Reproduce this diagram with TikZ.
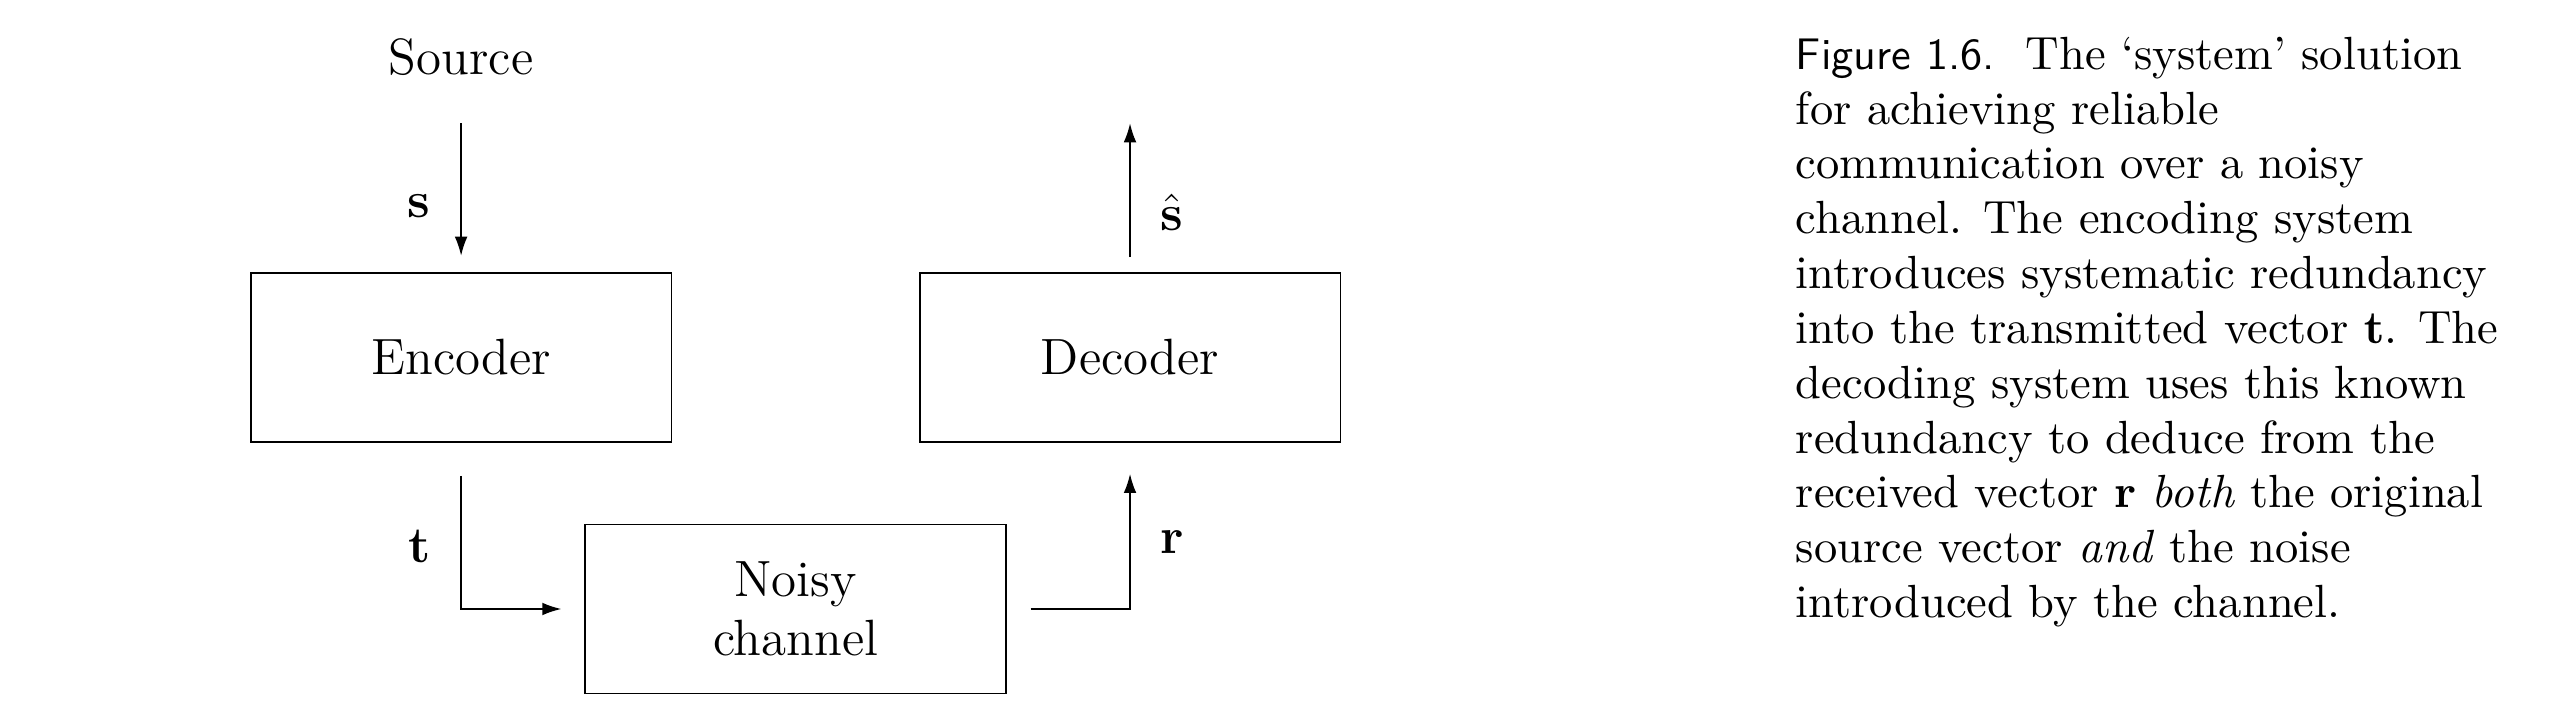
\documentclass[tikz,border=0pt]{standalone}
\usepackage{amsmath}
\usepackage{tikz}
\usetikzlibrary{calc,positioning,arrows.meta}

\begin{document}
\begin{tikzpicture}[->,>={Latex[length=4.5pt,width=3pt]},node distance=58pt]
  \tikzstyle{block}=[draw,rectangle,minimum width=99pt,minimum height=39.8pt,font=\large]
  \tikzstyle{lab}=[inner sep=0pt,font=\large]

  \useasboundingbox (-108.5pt,-86.7pt) rectangle (496.7pt,84.1pt);

  \node[block]              (enc)                       {Encoder};
  \node[block]              (dec)  [right=of enc]       {Decoder};
  \coordinate               (mid)  at ($(enc.south)!0.5!(dec.south)$);
  \node[block,align=center] (chan) [below=19pt of mid]  {Noisy\\channel};
  \coordinate               (src)  at ($(enc.north)+(0,35pt)$);
  \coordinate               (out)  at ($(dec.north)+(0,35pt)$);
  \node[lab]                (source) [above=11pt of src] {Source};

  \path (src) edge [shorten >=3.8pt] node[lab,left=7pt,pos=0.56] {$\mathbf{s}$} (enc)
        (dec) edge [shorten <=3.5pt] node[lab,right=7pt,pos=0.4] {$\hat{\mathbf{s}}$} (out);
  \draw[shorten <=7.8pt,shorten >=5.4pt] (enc) |- node[lab,left=7pt,pos=0.31] {$\mathbf{t}$} (chan);
  \draw[shorten <=5.6pt,shorten >=7.3pt] (chan) -| node[lab,right=7pt,pos=0.7] {$\mathbf{r}$} (dec);

  \node[anchor=north west,align=left,inner sep=0pt,font=\fontsize{10.95}{12.9}\selectfont] (caption) at (313.9pt,75.6pt)
    {{\fontsize{10.4}{12.9}\selectfont\sffamily Figure 1.6.}\ \ The `system' solution\\
     for achieving reliable\\
     communication over a noisy\\
     channel.  The encoding system\\
     introduces systematic redundancy\\
     into the transmitted vector $\mathbf{t}$.  The\\
     decoding system uses this known\\
     redundancy to deduce from the\\
     received vector $\mathbf{r}$ \emph{both} the original\\
     source vector \emph{and} the noise\\
     introduced by the channel.};
\end{tikzpicture}
\end{document}
